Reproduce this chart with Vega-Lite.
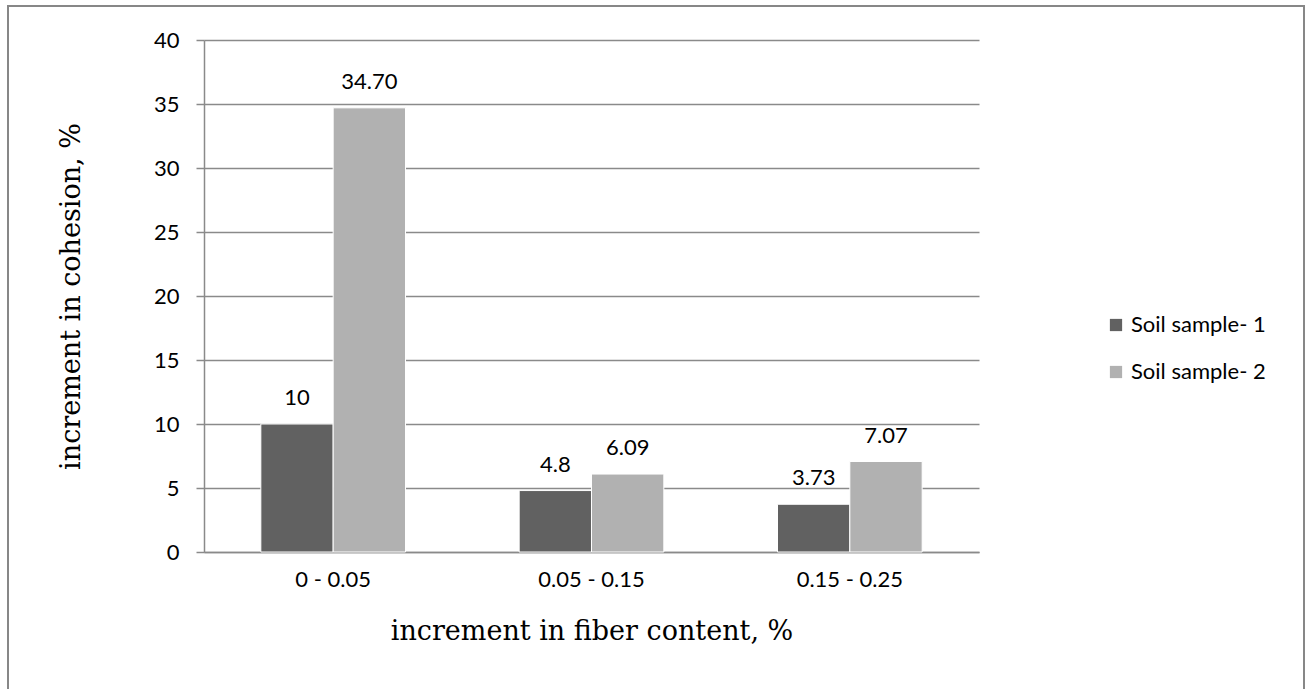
{
  "$schema": "https://vega.github.io/schema/vega-lite/v6.json",
  "autosize": {"type": "none"},
  "width": 1296,
  "height": 689,
  "padding": {"left": 8, "top": 6, "right": 3, "bottom": -6},
  "background": "white",
  "config": {
    "view": {"stroke": "#878787", "strokeWidth": 2},
    "font": "Lato",
    "axis": {
      "labelFont": "Lato",
      "labelFontSize": 22,
      "labelColor": "#000000",
      "domainColor": "#8a8a8a",
      "domainWidth": 1.5,
      "tickColor": "#8a8a8a",
      "tickWidth": 1.5,
      "gridColor": "#8a8a8a",
      "gridWidth": 1.5,
      "titleFont": "DejaVu Serif",
      "titleFontSize": 27,
      "titleFontWeight": "normal",
      "titleColor": "#000000"
    }
  },
  "data": {
    "values": [
      {"range": "0 - 0.05", "sample": "Soil sample- 1", "value": 10, "label": "10"},
      {"range": "0 - 0.05", "sample": "Soil sample- 2", "value": 34.7, "label": "34.70"},
      {"range": "0.05 - 0.15", "sample": "Soil sample- 1", "value": 4.8, "label": "4.8"},
      {"range": "0.05 - 0.15", "sample": "Soil sample- 2", "value": 6.09, "label": "6.09"},
      {"range": "0.15 - 0.25", "sample": "Soil sample- 1", "value": 3.73, "label": "3.73"},
      {"range": "0.15 - 0.25", "sample": "Soil sample- 2", "value": 7.07, "label": "7.07"}
    ]
  },
  "encoding": {
    "x": {
      "field": "range",
      "type": "nominal",
      "sort": ["0 - 0.05", "0.05 - 0.15", "0.15 - 0.25"],
      "scale": {"range": [196, 971], "paddingInner": 0.44, "paddingOuter": 0.22},
      "axis": {
        "orient": "bottom",
        "offset": -143,
        "ticks": false,
        "labelPadding": 17,
        "labelAngle": 0,
        "title": "increment in fiber content, %",
        "titlePadding": 28
      }
    },
    "xOffset": {
      "field": "sample",
      "type": "nominal",
      "scale": {"paddingInner": 0, "paddingOuter": 0}
    },
    "y": {
      "field": "value",
      "type": "quantitative",
      "scale": {"domain": [0, 40], "range": [546, 34], "nice": false, "zero": true},
      "axis": {
        "orient": "left",
        "offset": -196,
        "values": [0, 5, 10, 15, 20, 25, 30, 35, 40],
        "grid": true,
        "tickSize": 8,
        "labelPadding": 17,
        "title": "increment in cohesion, %",
        "titlePadding": 68
      }
    }
  },
  "layer": [
    {
      "mark": {"type": "bar", "stroke": "#ffffff", "strokeWidth": 1},
      "encoding": {
        "color": {
          "field": "sample",
          "type": "nominal",
          "scale": {"domain": ["Soil sample- 1", "Soil sample- 2"], "range": ["#616161", "#b1b1b1"]},
          "legend": {
            "title": null,
            "orient": "none",
            "legendX": 1097,
            "legendY": 308,
            "symbolType": "square",
            "symbolSize": 150,
            "symbolStrokeWidth": 0,
            "labelFont": "Lato",
            "labelFontSize": 22,
            "labelColor": "#000000",
            "labelOffset": 4,
            "rowPadding": 25,
            "padding": 0
          }
        }
      }
    },
    {
      "mark": {"type": "text", "baseline": "bottom", "dy": -14, "fontSize": 22, "font": "Lato", "color": "#000000"},
      "encoding": {"text": {"field": "label"}}
    }
  ]
}
